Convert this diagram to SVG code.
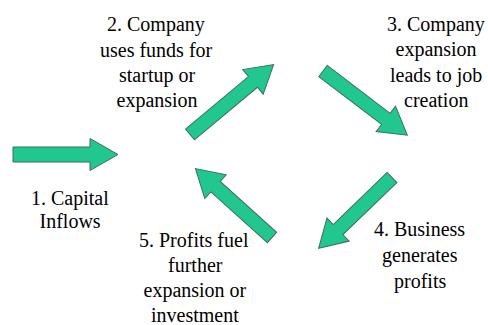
<svg xmlns="http://www.w3.org/2000/svg" width="488" height="325" viewBox="0 0 488 325">
<rect width="488" height="325" fill="#ffffff"/>
<g id="connectors" fill="#21c78f" stroke="#3d6f5c" stroke-width="1">
<polygon transform="translate(13,154.5)" points="0,-7.5 77,-7.5 77,-16 105,0 77,16 77,7.5 0,7.5"/>
<polygon transform="translate(190,134.5) rotate(-39.9)" points="0,-7 82,-7 82,-16 109,0 82,16 82,7 0,7"/>
<polygon transform="translate(323,71) rotate(37.3)" points="0,-7 79,-7 79,-16 106,0 79,16 79,7 0,7"/>
<polygon transform="translate(392,177.5) rotate(136)" points="0,-7 75,-7 75,-16 102,0 75,16 75,7 0,7"/>
<polygon transform="translate(272,237.5) rotate(-138)" points="0,-7 76,-7 76,-16 103,0 76,16 76,7 0,7"/>
</g>
<g id="node1">
<text x="31" y="205" font-family="Liberation Serif" font-size="20">1. Capital</text>
<text x="39.5" y="228" font-family="Liberation Serif" font-size="20">Inflows</text>
</g>
<g id="node2">
<text x="107" y="31" font-family="Liberation Serif" font-size="20">2. Company</text>
<text x="100" y="57" font-family="Liberation Serif" font-size="20">uses funds for</text>
<text x="119" y="82" font-family="Liberation Serif" font-size="20">startup or</text>
<text x="116.5" y="107" font-family="Liberation Serif" font-size="20">expansion</text>
</g>
<g id="node3">
<text x="387" y="31" font-family="Liberation Serif" font-size="20">3. Company</text>
<text x="395.5" y="56" font-family="Liberation Serif" font-size="20">expansion</text>
<text x="390" y="82" font-family="Liberation Serif" font-size="20">leads to job</text>
<text x="404" y="107" font-family="Liberation Serif" font-size="20">creation</text>
</g>
<g id="node4">
<text x="374" y="236" font-family="Liberation Serif" font-size="20">4. Business</text>
<text x="382" y="262" font-family="Liberation Serif" font-size="20">generates</text>
<text x="394" y="288" font-family="Liberation Serif" font-size="20">profits</text>
</g>
<g id="node5">
<text x="139" y="247" font-family="Liberation Serif" font-size="20">5. Profits fuel</text>
<text x="168" y="272" font-family="Liberation Serif" font-size="20">further</text>
<text x="143.5" y="297" font-family="Liberation Serif" font-size="20">expansion or</text>
<text x="151" y="322" font-family="Liberation Serif" font-size="20">investment</text>
</g>
</svg>
